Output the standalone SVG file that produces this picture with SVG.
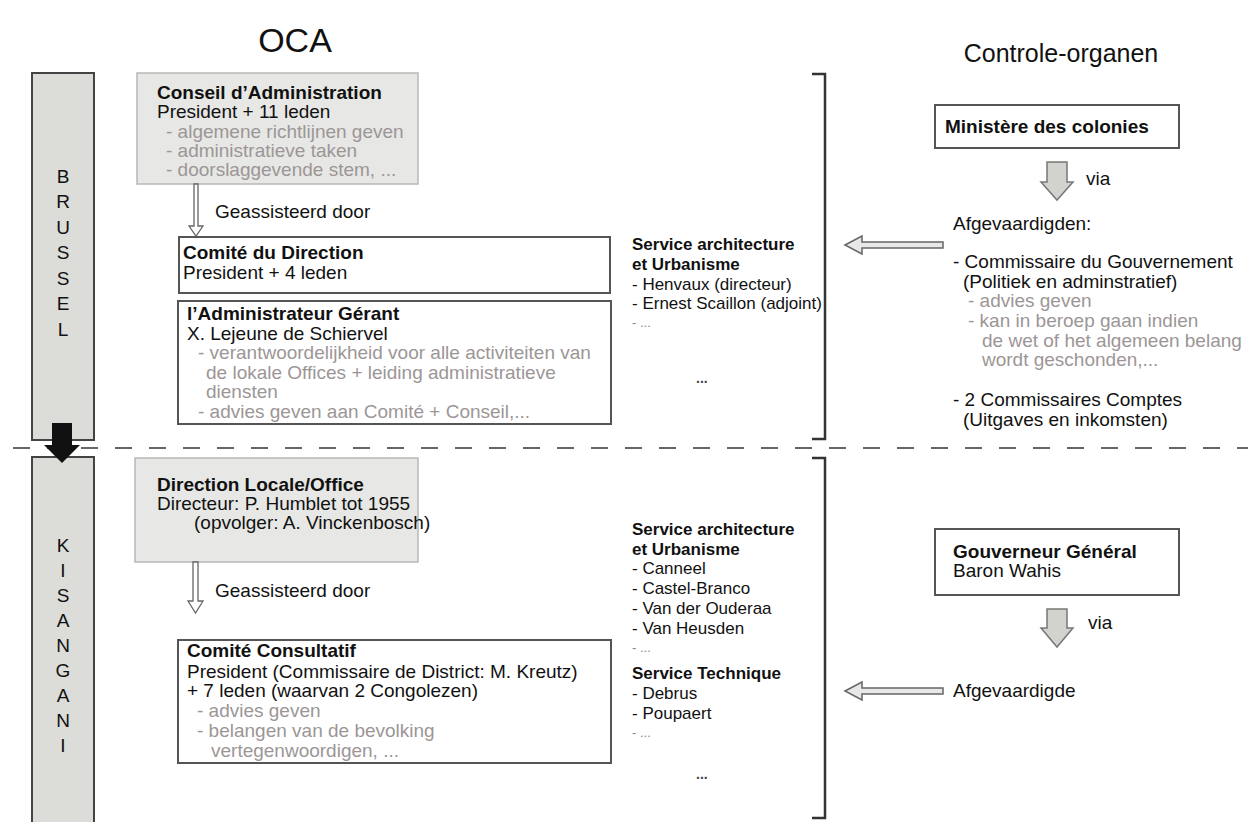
<svg xmlns="http://www.w3.org/2000/svg" width="1248" height="822" viewBox="0 0 1248 822">
<style>
text{font-family:"Liberation Sans",Arial,Helvetica,sans-serif;font-size:19px;fill:#111}
.b{font-weight:bold}
.g{fill:#9c9696}
.s{font-size:17px}
.d{font-size:13px;fill:#888}
.dd{font-size:14px;fill:#444;font-weight:bold}
.m{text-anchor:middle}
.bx{fill:#fff;stroke:#555;stroke-width:2}
.lb{fill:#e7e7e5;stroke:#b8b8b8;stroke-width:1.5}
.bar{fill:#dcdcd8;stroke:#444;stroke-width:2}
.br{fill:none;stroke:#333;stroke-width:2.5}
.ha{fill:#fff;stroke:#666;stroke-width:1.3}
.la{fill:#e8e8e8;stroke:#666;stroke-width:1.5}
.va{fill:#d2d2ce;stroke:#777;stroke-width:1.5}
</style>
<rect width="1248" height="822" fill="#fff"/>
<text x="295" y="52" class="m" style="font-size:34px">OCA</text>
<text x="1061" y="62" class="m" style="font-size:25px">Controle-organen</text>

<g id="bar-brussel">
<rect class="bar" x="32" y="73" width="62" height="367"/>
<text class="m" x="63" y="183">B</text>
<text class="m" x="63" y="208">R</text>
<text class="m" x="63" y="234">U</text>
<text class="m" x="63" y="259">S</text>
<text class="m" x="63" y="285">S</text>
<text class="m" x="63" y="310">E</text>
<text class="m" x="63" y="336">L</text>
</g>
<g id="bar-kisangani">
<rect class="bar" x="32" y="457" width="62" height="380"/>
<text class="m" x="63" y="552">K</text>
<text class="m" x="63" y="577">I</text>
<text class="m" x="63" y="602">S</text>
<text class="m" x="63" y="627">A</text>
<text class="m" x="63" y="652">N</text>
<text class="m" x="63" y="677">G</text>
<text class="m" x="63" y="702">A</text>
<text class="m" x="63" y="727">N</text>
<text class="m" x="63" y="752">I</text>
</g>

<g id="divider">
<line x1="13" y1="448" x2="1248" y2="448" stroke="#666" stroke-width="2" stroke-dasharray="17 17"/>
</g>

<g id="conseil">
<rect class="lb" x="137" y="73" width="281" height="111"/>
<text class="b" x="157" y="99">Conseil d’Administration</text>
<text x="157" y="118">President + 11 leden</text>
<text class="g" x="166" y="138">- algemene richtlijnen geven</text>
<text class="g" x="166" y="157">- administratieve taken</text>
<text class="g" x="166" y="176">- doorslaggevende stem, ...</text>
</g>

<g id="comite-direction">
<rect class="bx" x="179" y="237" width="431" height="56"/>
<text class="b" x="183" y="259">Comité du Direction</text>
<text x="183" y="279">President + 4 leden</text>
</g>

<g id="administrateur">
<rect class="bx" x="178" y="301" width="433" height="123"/>
<text class="b" x="187" y="320">l’Administrateur Gérant</text>
<text x="187" y="340">X. Lejeune de Schiervel</text>
<text class="g" x="198" y="359">- verantwoordelijkheid voor alle activiteiten van</text>
<text class="g" x="206" y="379">de lokale Offices + leiding administratieve</text>
<text class="g" x="206" y="398">diensten</text>
<text class="g" x="198" y="418">- advies geven aan Comité + Conseil,...</text>
</g>

<g id="service-brussel">
<text class="b s" x="632" y="250">Service architecture</text>
<text class="b s" x="632" y="270">et Urbanisme</text>
<text class="s" x="632" y="290">- Henvaux (directeur)</text>
<text class="s" x="632" y="309">- Ernest Scaillon (adjoint)</text>
<text class="d" x="632" y="327">- ...</text>
<text class="dd" x="696" y="383">...</text>
</g>

<g id="direction-locale">
<rect class="lb" x="135" y="458" width="283" height="104"/>
<text class="b" x="157" y="491">Direction Locale/Office</text>
<text x="157" y="510">Directeur: P. Humblet tot 1955</text>
<text x="194" y="529">(opvolger: A. Vinckenbosch)</text>
</g>

<g id="comite-consultatif">
<rect class="bx" x="178" y="640" width="433" height="123"/>
<text class="b" x="187" y="657">Comité Consultatif</text>
<text x="187" y="678">President (Commissaire de District: M. Kreutz)</text>
<text x="187" y="697">+ 7 leden (waarvan 2 Congolezen)</text>
<text class="g" x="197" y="717">- advies geven</text>
<text class="g" x="197" y="737">- belangen van de bevolking</text>
<text class="g" x="211" y="757">vertegenwoordigen, ...</text>
</g>

<g id="service-kisangani">
<text class="b s" x="632" y="535">Service architecture</text>
<text class="b s" x="632" y="555">et Urbanisme</text>
<text class="s" x="632" y="574">- Canneel</text>
<text class="s" x="632" y="594">- Castel-Branco</text>
<text class="s" x="632" y="614">- Van der Ouderaa</text>
<text class="s" x="632" y="634">- Van Heusden</text>
<text class="d" x="632" y="652">- ...</text>
<text class="b s" x="632" y="679">Service Technique</text>
<text class="s" x="632" y="699">- Debrus</text>
<text class="s" x="632" y="719">- Poupaert</text>
<text class="d" x="632" y="737">- ...</text>
<text class="dd" x="696" y="779">...</text>
</g>

<g id="ministere">
<rect class="bx" x="935" y="105" width="244" height="43"/>
<text class="b" x="945" y="133">Ministère des colonies</text>
</g>

<g id="afgevaardigden">
<text x="953" y="230">Afgevaardigden:</text>
<text x="953" y="268">- Commissaire du Gouvernement</text>
<text x="963" y="288">(Politiek en adminstratief)</text>
<text class="g" x="968" y="307">- advies geven</text>
<text class="g" x="968" y="327">- kan in beroep gaan indien</text>
<text class="g" x="982" y="347">de wet of het algemeen belang</text>
<text class="g" x="982" y="366">wordt geschonden,...</text>
<text x="953" y="406">- 2 Commissaires Comptes</text>
<text x="963" y="426">(Uitgaves en inkomsten)</text>
</g>

<g id="gouverneur">
<rect class="bx" x="935" y="529" width="244" height="66"/>
<text class="b" x="953" y="558">Gouverneur Général</text>
<text x="953" y="577">Baron Wahis</text>
</g>

<g id="afgevaardigde">
<text x="953" y="697">Afgevaardigde</text>
</g>

<g id="connectors">
<path class="br" d="M812 74H825V439H812"/>
<path class="br" d="M812 458H825V818H812"/>
<polygon class="ha" points="194,184 198,184 198,226 203,226 196,236 189,226 194,226"/>
<text x="215" y="218">Geassisteerd door</text>
<polygon class="ha" points="193,562 198,562 198,601 203,601 195.5,613 188,601 193,601"/>
<text x="215" y="597">Geassisteerd door</text>
<polygon class="va" points="1047,162 1067,162 1067,182 1073,182 1057,200 1041,182 1047,182"/>
<text x="1086" y="185">via</text>
<polygon class="va" points="1047,609 1067,609 1067,628 1073,628 1057,647 1041,628 1047,628"/>
<text x="1088" y="629">via</text>
<polygon class="la" points="845,245 862,236 862,242 943,242 943,248 862,248 862,254"/>
<polygon class="la" points="845,691 862,682 862,688 943,688 943,694 862,694 862,700"/>
<polygon fill="#111" points="52,423 72,423 72,445 80,445 62,463 44,445 52,445"/>
</g>
</svg>
